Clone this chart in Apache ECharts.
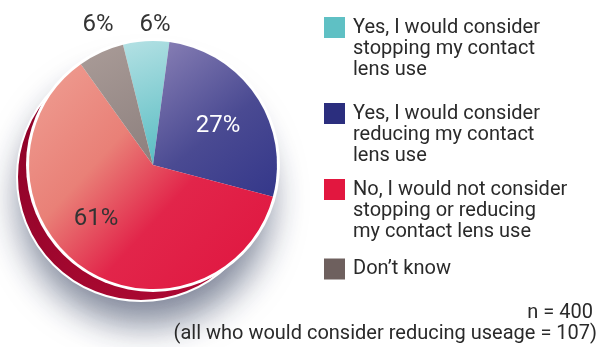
<!DOCTYPE html>
<html><head><meta charset="utf-8">
<script src="https://cdn.jsdelivr.net/npm/echarts@6/dist/echarts.min.js"></script>
<style>html,body{margin:0;padding:0;background:#fff}#c{width:604px;height:347px}</style>
</head><body><div id="c"></div>
<script>
const categories = [
  'Yes, I would consider\nstopping my contact\nlens use',
  'Yes, I would consider\nreducing my contact\nlens use',
  'No, I would not consider\nstopping or reducing\nmy contact lens use',
  'Don\u2019t know'
];
const values = [6, 27, 61, 6];
const labels = ['6%', '27%', '61%', '6%'];
const footnotes = ['n = 400', '(all who would consider reducing useage = 107)'];

const legendColors = ['#5fc0c4', '#2b2e7e', '#e2173f', '#6e605e'];
const faceGrad = [
  [[0, '#b4e1e4'], [1, '#55bbc1']],
  [[0, '#8a81b6'], [0.55, '#4a4a92'], [1, '#34378a']],
  [[0, '#efa094'], [0.35, '#e98077'], [0.6, '#e2254a'], [1, '#df143f']],
  [[0, '#aa9c98'], [1, '#8c7f7d']]
];
const labelColors = ['#333', '#fff', '#333', '#333'];
const labelPos = ['outside', 'inside', 'inside', 'outside'];
const labelShift = [[30, -8], [11, -3], [-20, 0], [40, -34]];
const FONT = 'Roboto, "Noto Sans", sans-serif';
const C = [153, 165], R = 124;

const chart = echarts.init(document.getElementById('c'), null, {renderer: 'canvas'});
const grad = (stops) => new echarts.graphic.LinearGradient(0, 0, 1, 1, stops.map(s => ({offset: s[0], color: s[1]})));

const faceData = categories.map((n, i) => ({
  name: n, value: values[i],
  itemStyle: {color: grad(faceGrad[i])},
  label: {position: labelPos[i], color: labelColors[i], formatter: labels[i]}
}));

const legendCenters = [27.5, 113.5, 189.5, 269];
const LH = 21;
const legends = categories.map((n, i) => {
  const lines = n.split('\n').length;
  const total = 2 * lines - 1;
  return {
    data: [{name: n, icon: 'rect', itemStyle: {color: legendColors[i]}}],
    left: 324, top: legendCenters[i] - total * LH / 2,
    orient: 'vertical', padding: 0, itemWidth: 21, itemHeight: 21, itemGap: 0,
    selectedMode: false,
    formatter: (name) => '\n'.repeat(lines - 1) + name,
    textStyle: {fontFamily: FONT, fontSize: 20, lineHeight: LH, color: '#2a2a2a', padding: [0, 0, 0, 3]}
  };
});

chart.setOption({
  animation: false,
  legend: legends,
  title: [
    {text: footnotes[0], right: 11, top: 303, textStyle: {fontFamily: FONT, fontSize: 20, fontWeight: 'normal', color: '#2a2a2a'}, padding: 0},
    {text: footnotes[1], right: 7, top: 324, textStyle: {fontFamily: FONT, fontSize: 20, fontWeight: 'normal', color: '#2a2a2a'}, padding: 0}
  ],
  series: [
    {
      type: 'pie', silent: true, z: 1, center: [C[0] - 12, C[1] + 12], radius: R,
      label: {show: false}, labelLine: {show: false},
      data: [{value: 1, itemStyle: {
        color: grad([[0, '#8e0026'], [0.6, '#a7082f'], [1, '#b30a35']]),
        borderColor: '#ffffff', borderWidth: 2,
        shadowBlur: 35, shadowColor: 'rgba(60,70,100,0.65)', shadowOffsetX: 4, shadowOffsetY: 22
      }}]
    },
    {
      type: 'pie', silent: true, z: 2, center: C, radius: R + 3,
      label: {show: false}, labelLine: {show: false},
      data: [{value: 1, itemStyle: {color: '#ffffff'}}]
    },
    {
      type: 'pie', z: 3, center: C, radius: R, startAngle: 104, clockwise: true,
      label: {show: true, fontFamily: FONT, fontSize: 24},
      labelLine: {show: false, length: 8, length2: 0},
      labelLayout: (p) => ({dx: labelShift[p.dataIndex][0], dy: labelShift[p.dataIndex][1]}),
      emphasis: {disabled: true},
      data: faceData
    }
  ]
});
</script></body></html>
